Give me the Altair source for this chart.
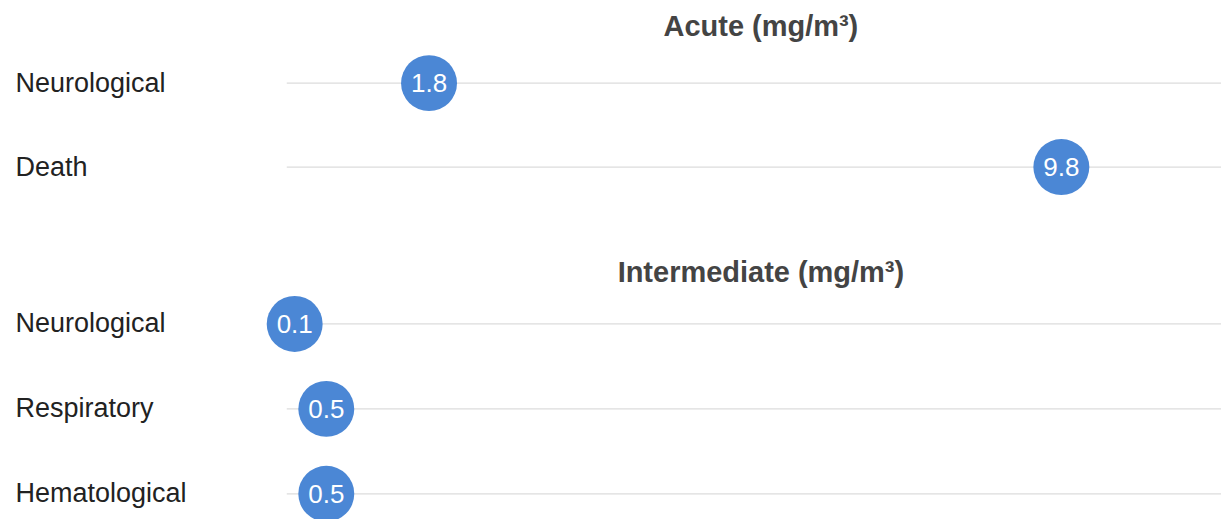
import altair as alt
import pandas as pd

# ---- data ----
acute_effects = ["Neurological", "Death"]
acute_values = [1.8, 9.8]
inter_effects = ["Neurological", "Respiratory", "Hematological"]
inter_values = [0.1, 0.5, 0.5]
x_max = 11.82

FONT = "Liberation Sans"
BLUE = "#4b87d5"


def panel(title, effects, values, height, pad):
    df = pd.DataFrame({
        "effect": effects,
        "value": values,
        "label": [f"{v:.1f}" for v in values],
        "zero": [0.0] * len(values),
        "end": [x_max] * len(values),
    })
    xscale = alt.Scale(domain=[0, x_max], nice=False, zero=True)
    y = alt.Y(
        "effect:N",
        sort=effects,
        scale=alt.Scale(type="point", padding=pad),
        axis=alt.Axis(
            title=None, labelAlign="left", labelPadding=272, ticks=False,
            tickSize=0, domain=False, grid=False, labelFontSize=27,
            labelFont=FONT, labelColor="#222222", labelBaseline="middle",
        ),
    )
    base = alt.Chart(df)
    rule = base.mark_rule(color="#dcdcdc", strokeWidth=1.2).encode(
        x=alt.X("zero:Q", scale=xscale, axis=None), x2="end:Q", y=y
    )
    dots = base.mark_circle(size=3136, opacity=1, color=BLUE).encode(
        x=alt.X("value:Q", scale=xscale, axis=None), y=y
    )
    text = base.mark_text(color="white", fontSize=26, font=FONT, baseline="middle", dy=1).encode(
        x=alt.X("value:Q", scale=xscale, axis=None), y=y, text="label:N"
    )
    return alt.layer(rule, dots, text).properties(
        width=935,
        height=height,
        title=alt.TitleParams(
            title, fontSize=29, font=FONT, fontWeight="bold", color="#444444",
            anchor="middle", offset=3, dx=7,
        ),
    )


acute = panel("Acute (mg/m³)", acute_effects, acute_values, 160, 0.452)
inter = panel("Intermediate (mg/m³)", inter_effects, inter_values, 236, 0.388)

chart = alt.vconcat(acute, inter, spacing=54).properties(
    padding={"left": 7, "top": 5, "right": 0, "bottom": 0}
).configure_view(stroke=None)

chart.save("out.html", embed_options={"renderer": "svg", "actions": False})
